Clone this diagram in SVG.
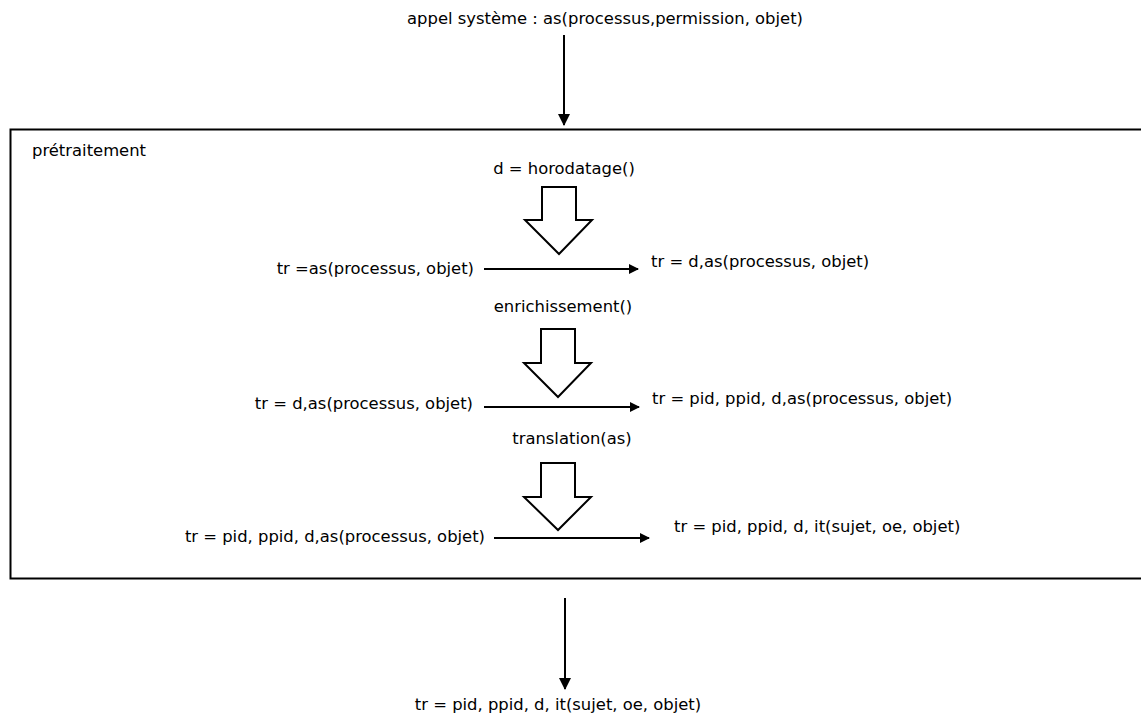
<svg xmlns="http://www.w3.org/2000/svg" width="1141" height="716" viewBox="0 0 1141 716">
  <style>
    text { font-family: "DejaVu Sans", sans-serif; font-size: 16.4px; fill: #000; }
    .line { stroke: #000; stroke-width: 2; fill: none; }
    .hollow { fill: #fff; stroke: #000; stroke-width: 2; stroke-linejoin: miter; }
  </style>
  <defs>
    <marker id="head" markerWidth="10" markerHeight="10" refX="9" refY="5" orient="auto" markerUnits="userSpaceOnUse">
      <path d="M0,0 L10,5 L0,10 Z" fill="#000"/>
    </marker>
    <marker id="headv" markerWidth="12" markerHeight="12" refX="11" refY="6" orient="auto" markerUnits="userSpaceOnUse">
      <path d="M0,0 L12,6 L0,12 Z" fill="#000"/>
    </marker>
  </defs>
  <rect width="1141" height="716" fill="#fff"/>

  <!-- pretraitement container -->
  <g id="pretraitement">
    <rect x="10.5" y="129.5" width="1140" height="449" fill="#fff" stroke="#000" stroke-width="2"/>
    <text x="32" y="156">prétraitement</text>
  </g>

  <g id="input">
    <text x="605" y="24" text-anchor="middle">appel système : as(processus,permission, objet)</text>
  </g>

  <g id="step-horodatage">
    <text x="564" y="174" text-anchor="middle">d = horodatage()</text>
    <path class="hollow" d="M542,187 L576,187 L576,220 L592,220 L559,254 L525,220 L542,220 Z"/>
  </g>
  <g id="tr-in-1"><text x="474" y="274" text-anchor="end">tr =as(processus, objet)</text></g>
  <g id="tr-out-1"><text x="651" y="267">tr = d,as(processus, objet)</text></g>

  <g id="step-enrichissement">
    <text x="563" y="312" text-anchor="middle">enrichissement()</text>
    <path class="hollow" d="M541,329 L575,329 L575,363 L591,363 L558,397 L524,363 L541,363 Z"/>
  </g>
  <g id="tr-in-2"><text x="473" y="409" text-anchor="end">tr = d,as(processus, objet)</text></g>
  <g id="tr-out-2"><text x="652" y="404">tr = pid, ppid, d,as(processus, objet)</text></g>

  <g id="step-translation">
    <text x="572" y="444" text-anchor="middle">translation(as)</text>
    <path class="hollow" d="M541,463 L575,463 L575,497 L591,497 L558,530 L524,497 L541,497 Z"/>
  </g>
  <g id="tr-in-3"><text x="485" y="542" text-anchor="end">tr = pid, ppid, d,as(processus, objet)</text></g>
  <g id="tr-out-3"><text x="674" y="532">tr = pid, ppid, d, it(sujet, oe, objet)</text></g>

  <g id="output">
    <text x="558" y="710" text-anchor="middle">tr = pid, ppid, d, it(sujet, oe, objet)</text>
  </g>

  <!-- connectors -->
  <g id="connectors">
    <line class="line" x1="564" y1="35" x2="564" y2="125" marker-end="url(#headv)"/>
    <line class="line" x1="484" y1="269" x2="638" y2="269" marker-end="url(#head)"/>
    <line class="line" x1="484" y1="407" x2="639" y2="407" marker-end="url(#head)"/>
    <line class="line" x1="494" y1="538" x2="649" y2="538" marker-end="url(#head)"/>
    <line class="line" x1="565" y1="598" x2="565" y2="689" marker-end="url(#headv)"/>
  </g>
</svg>
